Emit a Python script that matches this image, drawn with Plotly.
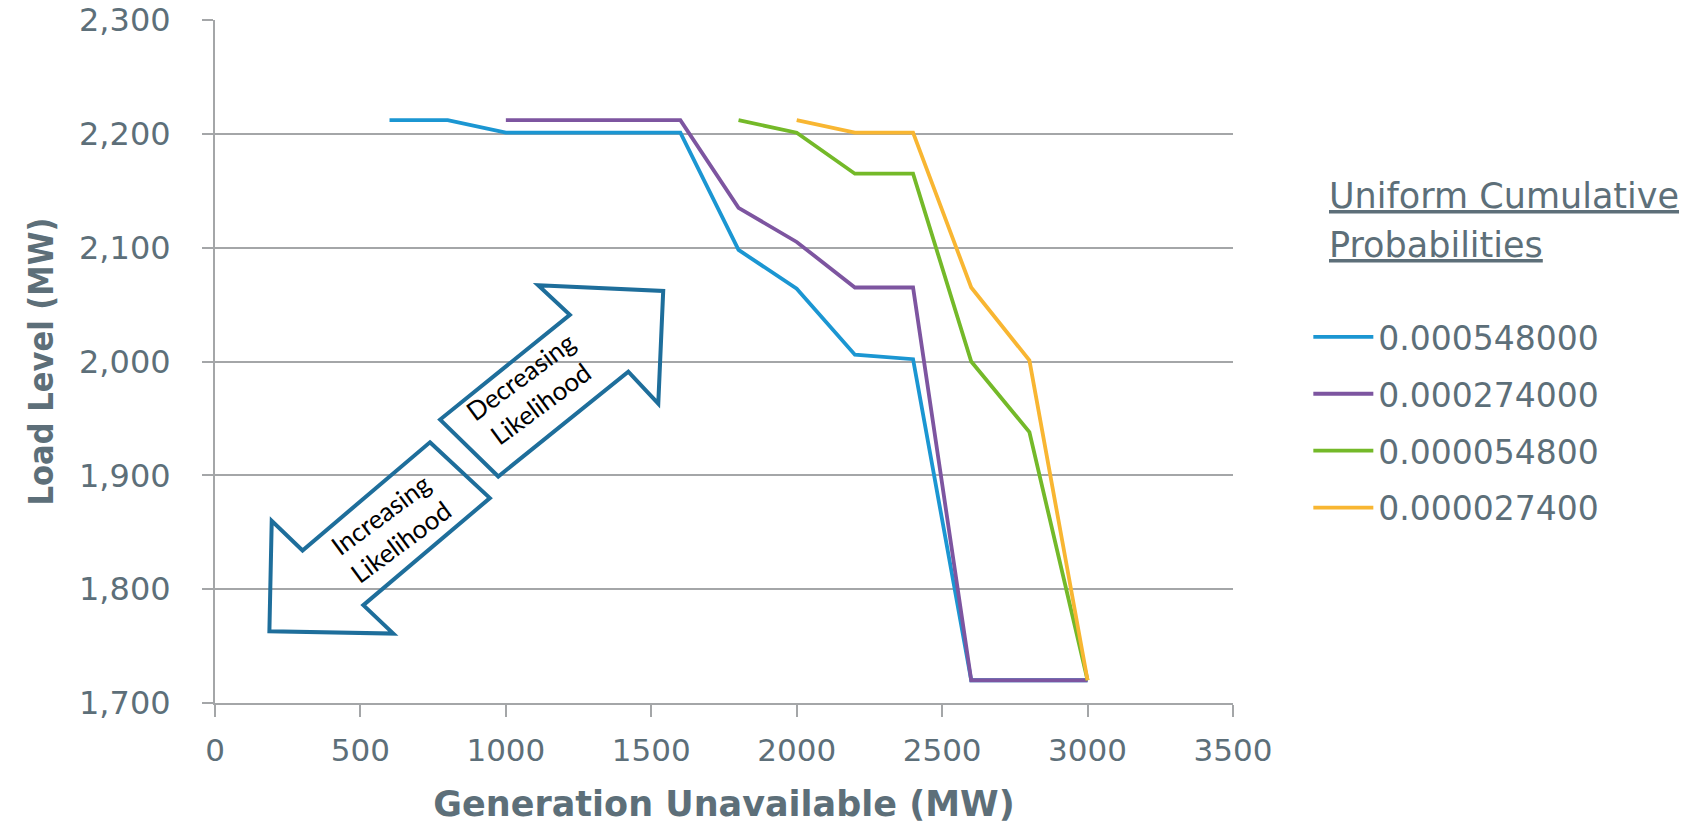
import plotly.graph_objects as go

# ---- data ----
series_names = ["0.000548000", "0.000274000", "0.000054800", "0.000027400"]
x_p548 = [600, 800, 1000, 1600, 1800, 2000, 2200, 2400, 2600, 2800, 3000]
y_p548 = [2212, 2212, 2201, 2201, 2098, 2064, 2006, 2002, 1720, 1720, 1720]
x_p274 = [1000, 1600, 1800, 2000, 2200, 2400, 2600, 2800, 3000]
y_p274 = [2212, 2212, 2135, 2105, 2065, 2065, 1720, 1720, 1720]
x_p0548 = [1800, 2000, 2200, 2400, 2600, 2800, 3000]
y_p0548 = [2212, 2201, 2165, 2165, 2000, 1938, 1720]
x_p0274 = [2000, 2200, 2400, 2600, 2800, 3000]
y_p0274 = [2212, 2201, 2201, 2065, 2001, 1720]

x_ticks = [0, 500, 1000, 1500, 2000, 2500, 3000, 3500]
y_ticks = [1700, 1800, 1900, 2000, 2100, 2200, 2300]

colors = ["#1B96D2", "#7D55A0", "#74B929", "#F8B632"]
slate = "#5D6F79"
grid = "#A4A6A8"
arrow_col = "#1E6E9B"

# arrow outlines (annotation decoration, in data units)
arrow_up = [(774, 1949), (974, 1899), (1421, 1991), (1524, 1963),
            (1541, 2062), (1111, 2067), (1220, 2041)]
arrow_down = [(739, 1929), (945, 1880), (510, 1786), (613, 1761),
              (187, 1763), (195, 1860), (301, 1834)]


def path_of(pts):
    return "M " + " L ".join(f"{x},{y}" for x, y in pts) + " Z"


fig = go.Figure()
for name, xs, ys, c in zip(series_names,
                           [x_p548, x_p274, x_p0548, x_p0274],
                           [y_p548, y_p274, y_p0548, y_p0274], colors):
    fig.add_trace(go.Scatter(x=xs, y=ys, mode="lines", name=name,
                             legendgroup=name,
                             line=dict(color=c, width=3.8)))

fig.update_layout(
    width=1696, height=824, autosize=False,
    margin=dict(l=215, r=463, t=20, b=121, autoexpand=False),
    plot_bgcolor="white", paper_bgcolor="white",
    font=dict(family="DejaVu Sans", color=slate),
    showlegend=True,
    legend=dict(x=1.074, y=0.577, xanchor="left", yanchor="top",
                font=dict(family="DejaVu Sans", size=33, color=slate),
                itemwidth=60,
                tracegroupgap=11, bgcolor="rgba(0,0,0,0)"),
    xaxis=dict(range=[0, 3500], tickvals=x_ticks, showgrid=False,
               automargin=False,
               zeroline=False, showline=True, linecolor=grid, linewidth=2,
               ticks="outside", ticklen=12, tickwidth=2, tickcolor=grid,
               tickfont=dict(family="DejaVu Sans", size=31, color=slate),
               ticklabelstandoff=7,
               title=dict(text="Generation Unavailable (MW)",
                          font=dict(family="DejaVu Sans", size=35,
                                    color=slate, weight="bold"),
                          standoff=30)),
    yaxis=dict(range=[1700, 2300], tickvals=y_ticks, tickformat=",d",
               automargin=False,
               showgrid=True, gridcolor=grid, gridwidth=2,
               zeroline=False, showline=True, linecolor=grid, linewidth=2,
               ticks="outside", ticklen=11, tickwidth=2, tickcolor=grid,
               tickfont=dict(family="DejaVu Sans", size=32, color=slate),
               ticklabelstandoff=25,
               title=dict(text="Load Level (MW)",
                          font=dict(family="DejaVu Sans Condensed, DejaVu Sans",
                                    size=34, color=slate, weight="bold"),
                          standoff=15)),
)

fig.add_shape(type="path", path=path_of(arrow_up), xref="x", yref="y",
              line=dict(color=arrow_col, width=4), layer="above")
fig.add_shape(type="path", path=path_of(arrow_down), xref="x", yref="y",
              line=dict(color=arrow_col, width=4), layer="above")

fig.add_annotation(x=1085, y=1975, xref="x", yref="y",
                   text="Decreasing<br>Likelihood", showarrow=False,
                   textangle=-36.5, font=dict(family="Lato", size=26, color="black"))
fig.add_annotation(x=604, y=1854, xref="x", yref="y",
                   text="Increasing<br>Likelihood", showarrow=False,
                   textangle=-36.5, font=dict(family="Lato", size=26, color="black"))

for txt, yy in [("Uniform Cumulative", 0.743), ("Probabilities", 0.671)]:
    fig.add_annotation(x=1.092, y=yy, xref="paper", yref="paper",
                       xanchor="left", yanchor="middle", align="left",
                       text=txt, showarrow=False,
                       font=dict(family="DejaVu Sans", size=35, color=slate,
                                 lineposition="under"))

fig.write_html("out.html",
               config={"displayModeBar": False},
               post_script="document.body.style.margin='0';"
                           "document.body.style.overflow='hidden';")
